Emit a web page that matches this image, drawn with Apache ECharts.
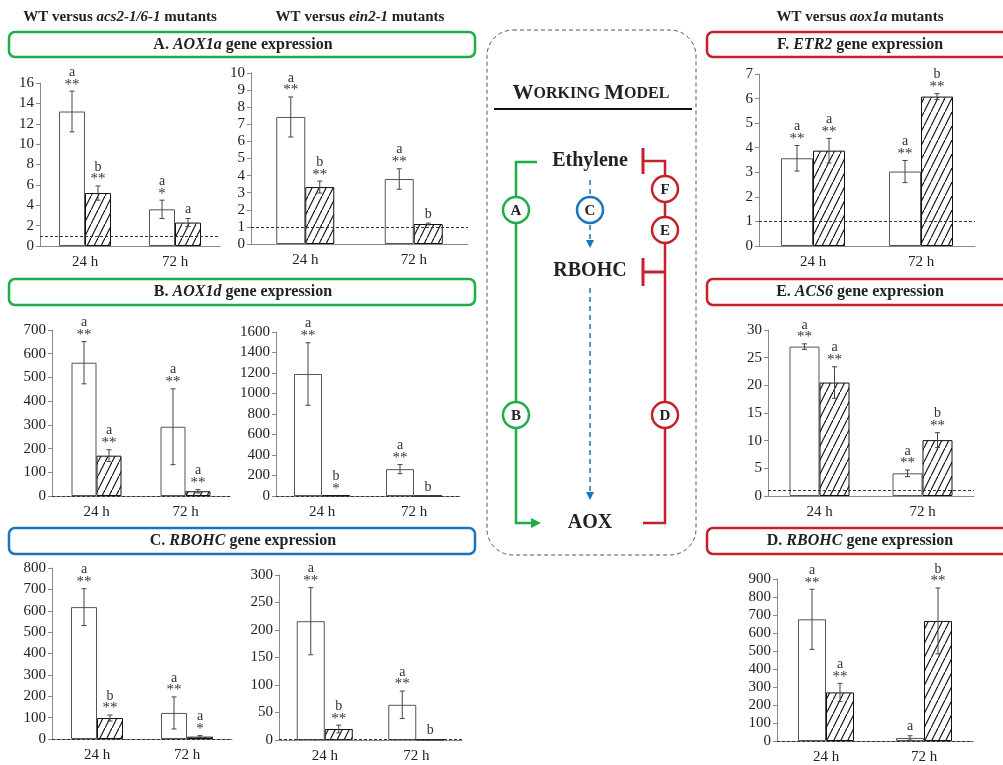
<!DOCTYPE html>
<html><head><meta charset="utf-8">
<script src="https://cdn.jsdelivr.net/npm/echarts@6/dist/echarts.min.js"></script>
<style>html,body{margin:0;padding:0;background:#fff}#c{width:1003px;height:765px}</style>
</head><body><div id="c"></div>
<script>
// ---------- DATA ----------
const timePoints = ['24 h', '72 h'];

// A. AOX1a — WT vs acs2-1/6-1
const aox1aAcsWT = [13.2, 3.6];   const aox1aAcsWTErr = [2.0, 0.9];
const aox1aAcsMut = [5.2, 2.3];   const aox1aAcsMutErr = [0.7, 0.4];
const aox1aAcsWTSig = [['a','**'], ['a','*']];
const aox1aAcsMutSig = [['b','**'], ['a','']];
const aox1aAcsTicks = [0, 16, 2];
// A. AOX1a — WT vs ein2-1
const aox1aEinWT = [7.43, 3.8];   const aox1aEinWTErr = [1.17, 0.6];
const aox1aEinMut = [3.33, 1.17]; const aox1aEinMutErr = [0.35, 0.05];
const aox1aEinWTSig = [['a','**'], ['a','**']];
const aox1aEinMutSig = [['b','**'], ['b','']];
const aox1aEinTicks = [0, 10, 1];

// B. AOX1d — WT vs acs2-1/6-1
const aox1dAcsWT = [562, 292];    const aox1dAcsWTErr = [89, 160];
const aox1dAcsMut = [170, 20];    const aox1dAcsMutErr = [25, 7];
const aox1dAcsWTSig = [['a','**'], ['a','**']];
const aox1dAcsMutSig = [['a','**'], ['a','**']];
const aox1dAcsTicks = [0, 700, 100];
// B. AOX1d — WT vs ein2-1
const aox1dEinWT = [1190, 262];   const aox1dEinWTErr = [305, 45];
const aox1dEinMut = [6, 1];       const aox1dEinMutErr = [0, 0];
const aox1dEinWTSig = [['a','**'], ['a','**']];
const aox1dEinMutSig = [['b','*'], ['b','']];
const aox1dEinTicks = [0, 1600, 200];

// C. RBOHC — WT vs acs2-1/6-1
const rbohcAcsWT = [617, 122];    const rbohcAcsWTErr = [86, 75];
const rbohcAcsMut = [98, 11];     const rbohcAcsMutErr = [14, 5];
const rbohcAcsWTSig = [['a','**'], ['a','**']];
const rbohcAcsMutSig = [['b','**'], ['a','*']];
const rbohcAcsTicks = [0, 800, 100];
// C. RBOHC — WT vs ein2-1
const rbohcEinWT = [216, 64];     const rbohcEinWTErr = [61, 25];
const rbohcEinMut = [20, 1];      const rbohcEinMutErr = [7, 0];
const rbohcEinWTSig = [['a','**'], ['a','**']];
const rbohcEinMutSig = [['b','**'], ['b','']];
const rbohcEinTicks = [0, 300, 50];

// F. ETR2 — WT vs aox1a
const etr2WT = [3.57, 3.03];      const etr2WTErr = [0.52, 0.45];
const etr2Mut = [3.88, 6.08];     const etr2MutErr = [0.5, 0.12];
const etr2WTSig = [['a','**'], ['a','**']];
const etr2MutSig = [['a','**'], ['b','**']];
const etr2Ticks = [0, 7, 1];

// E. ACS6 — WT vs aox1a
const acs6WT = [27.0, 4.1];       const acs6WTErr = [0.5, 0.6];
const acs6Mut = [20.5, 10.1];     const acs6MutErr = [2.85, 1.35];
const acs6WTSig = [['a','**'], ['a','**']];
const acs6MutSig = [['a','**'], ['b','**']];
const acs6Ticks = [0, 30, 5];

// D. RBOHC — WT vs aox1a
const rbohcAoxWT = [676, 17];     const rbohcAoxWTErr = [167, 12];
const rbohcAoxMut = [270, 667];   const rbohcAoxMutErr = [50, 183];
const rbohcAoxWTSig = [['a','**'], ['a','']];
const rbohcAoxMutSig = [['a','**'], ['b','**']];
const rbohcAoxTicks = [0, 900, 100];

const baselineLevel = 1;

// ---------- LAYOUT ----------
const FONT = "'Liberation Serif','DejaVu Serif',serif";
const panels = [
  {wt:aox1aAcsWT, wtE:aox1aAcsWTErr, mu:aox1aAcsMut, muE:aox1aAcsMutErr, wtS:aox1aAcsWTSig, muS:aox1aAcsMutSig, t:aox1aAcsTicks, g:[40,83,180,163], bw:26},
  {wt:aox1aEinWT, wtE:aox1aEinWTErr, mu:aox1aEinMut, muE:aox1aEinMutErr, wtS:aox1aEinWTSig, muS:aox1aEinMutSig, t:aox1aEinTicks, g:[251,73,217,171], bw:29},
  {wt:aox1dAcsWT, wtE:aox1dAcsWTErr, mu:aox1dAcsMut, muE:aox1dAcsMutErr, wtS:aox1dAcsWTSig, muS:aox1dAcsMutSig, t:aox1dAcsTicks, g:[52,330,178,166], bw:25},
  {wt:aox1dEinWT, wtE:aox1dEinWTErr, mu:aox1dEinMut, muE:aox1dEinMutErr, wtS:aox1dEinWTSig, muS:aox1dEinMutSig, t:aox1dEinTicks, g:[276,332,184,164], bw:28},
  {wt:rbohcAcsWT, wtE:rbohcAcsWTErr, mu:rbohcAcsMut, muE:rbohcAcsMutErr, wtS:rbohcAcsWTSig, muS:rbohcAcsMutSig, t:rbohcAcsTicks, g:[52,568,180,171], bw:26},
  {wt:rbohcEinWT, wtE:rbohcEinWTErr, mu:rbohcEinMut, muE:rbohcEinMutErr, wtS:rbohcEinWTSig, muS:rbohcEinMutSig, t:rbohcEinTicks, g:[279,575,183,165], bw:28},
  {wt:etr2WT, wtE:etr2WTErr, mu:etr2Mut, muE:etr2MutErr, wtS:etr2WTSig, muS:etr2MutSig, t:etr2Ticks, g:[759,74,216,172], bw:32},
  {wt:acs6WT, wtE:acs6WTErr, mu:acs6Mut, muE:acs6MutErr, wtS:acs6WTSig, muS:acs6MutSig, t:acs6Ticks, g:[768,330,206,166], bw:30},
  {wt:rbohcAoxWT, wtE:rbohcAoxWTErr, mu:rbohcAoxMut, muE:rbohcAoxMutErr, wtS:rbohcAoxWTSig, muS:rbohcAoxMutSig, t:rbohcAoxTicks, g:[777,579,196,162], bw:28}
];

function hatchCanvas() {
  const c = document.createElement('canvas');
  c.width = 7; c.height = 14;
  const g = c.getContext('2d');
  g.fillStyle = '#fff'; g.fillRect(0, 0, 7, 14);
  g.strokeStyle = '#111'; g.lineWidth = 1.1;
  g.beginPath(); g.moveTo(-1, 16); g.lineTo(8, -2); g.stroke();
  return c;
}
const hatch = hatchCanvas();
const AX = '#8a8a8a';

const grids = [], xAxes = [], yAxes = [], series = [];
panels.forEach((p, i) => {
  grids.push({left:p.g[0], top:p.g[1], width:p.g[2], height:p.g[3], containLabel:false, outerBoundsMode:'none'});
  xAxes.push({gridIndex:i, type:'category', data:timePoints,
    axisLine:{lineStyle:{color:AX}}, axisTick:{length:5, lineStyle:{color:AX}},
    axisLabel:{fontFamily:FONT, fontSize:15, color:'#222', margin:9}});
  yAxes.push({gridIndex:i, type:'value', min:p.t[0], max:p.t[1], interval:p.t[2],
    axisLine:{show:true, lineStyle:{color:AX}}, axisTick:{show:true, length:4, lineStyle:{color:AX}},
    splitLine:{show:false},
    axisLabel:{fontFamily:FONT, fontSize:15, color:'#222', margin:6, formatter:function(v){ return String(v); }}});
  series.push({type:'bar', xAxisIndex:i, yAxisIndex:i, data:p.wt, barWidth:p.bw, barGap:'0%',
    itemStyle:{color:'#fff', borderColor:'#555', borderWidth:1}, silent:true,
    markLine:{silent:true, symbol:'none', label:{show:false},
      lineStyle:{type:[3,2], color:'#333', width:1}, data:[{yAxis:baselineLevel}]}});
  series.push({type:'bar', xAxisIndex:i, yAxisIndex:i, data:p.mu, barWidth:p.bw, barGap:'0%',
    itemStyle:{color:{image:hatch, repeat:'repeat'}, borderColor:'#111', borderWidth:1}, silent:true});
  const data = [], sigs = [];
  for (let k = 0; k < timePoints.length; k++) {
    data.push([k, p.wt[k], p.wtE[k], 0]); sigs.push(p.wtS[k]);
    data.push([k, p.mu[k], p.muE[k], 1]); sigs.push(p.muS[k]);
  }
  const bw = p.bw;
  series.push({type:'custom', xAxisIndex:i, yAxisIndex:i, z:10, silent:true, data:data,
    renderItem:function(params, api){
      const cat = api.value(0), v = api.value(1), e = api.value(2), s = api.value(3);
      const cx = api.coord([cat, v])[0] + (s === 0 ? -bw/2 : bw/2);
      const yT = api.coord([cat, v + e])[1];
      const yB = api.coord([cat, Math.max(v - e, 0)])[1];
      const ch = [];
      const st = {stroke:'#444', lineWidth:1};
      if (e > 0) {
        ch.push({type:'line', shape:{x1:cx, y1:yT, x2:cx, y2:yB}, style:st});
        ch.push({type:'line', shape:{x1:cx-2.5, y1:yT, x2:cx+2.5, y2:yT}, style:st});
        ch.push({type:'line', shape:{x1:cx-2.5, y1:yB, x2:cx+2.5, y2:yB}, style:st});
      }
      const sig = sigs[params.dataIndex];
      let y = yT;
      if (sig[1]) {
        ch.push({type:'text', style:{text:sig[1], x:cx, y:y + 1, align:'center', verticalAlign:'bottom',
          font:'15px ' + FONT, fill:'#333'}});
        y -= 10;
      }
      ch.push({type:'text', style:{text:sig[0], x:cx, y:y - 2, align:'center', verticalAlign:'bottom',
        font:'14px ' + FONT, fill:'#333'}});
      return {type:'group', children:ch};
    }});
});

// ---------- GRAPHICS (headers, title boxes, working model) ----------
const GREEN = '#1fac4b', BLUE = '#1b75bc', RED = '#c4212b';
const richBase = {
  n:{fontFamily:FONT, fontWeight:'bold', fontSize:16, fill:'#222'},
  i:{fontFamily:FONT, fontWeight:'bold', fontStyle:'italic', fontSize:16, fill:'#222'}
};
const richHead = {
  n:{fontFamily:FONT, fontWeight:'bold', fontSize:15, fill:'#222'},
  i:{fontFamily:FONT, fontWeight:'bold', fontStyle:'italic', fontSize:15, fill:'#222'}
};
function box(x, y, w, h, color, label, gene, cx) {
  return [
    {type:'rect', shape:{x:x, y:y, width:w, height:h, r:6}, style:{fill:'#fff', stroke:color, lineWidth:2.5}, z:1},
    {type:'text', x:cx, y:y + h/2, z:2, style:{text:'{n|' + label + ' }{i|' + gene + '}{n| gene expression}',
      rich:richBase, align:'center', verticalAlign:'middle'}}
  ];
}
function head(cx, y, pre, it, post) {
  return {type:'text', x:cx, y:y, style:{text:'{n|' + pre + '}{i|' + it + '}{n|' + post + '}',
    rich:richHead, align:'center', verticalAlign:'middle'}};
}
function circ(cx, cy, color, letter) {
  return [
    {type:'circle', shape:{cx:cx, cy:cy, r:13}, style:{fill:'#fff', stroke:color, lineWidth:2.5}, z:3},
    {type:'text', x:cx, y:cy + 1, z:4, style:{text:letter, font:'bold 15px ' + FONT, fill:'#222', align:'center', verticalAlign:'middle'}}
  ];
}
function ln(x1, y1, x2, y2, color, w, dash) {
  return {type:'line', shape:{x1:x1, y1:y1, x2:x2, y2:y2}, style:{stroke:color, lineWidth:w, lineDash:dash || null}, z:2};
}
function lbl(cx, cy, t) {
  return {type:'text', x:cx, y:cy, z:4, style:{text:t, font:'bold 20px ' + FONT, fill:'#222', align:'center', verticalAlign:'middle'}};
}

let graphics = [];
graphics.push(head(120, 17, 'WT versus ', 'acs2-1/6-1', ' mutants'));
graphics.push(head(360, 17, 'WT versus ', 'ein2-1', ' mutants'));
graphics.push(head(860, 17, 'WT versus ', 'aox1a', ' mutants'));
graphics = graphics.concat(box(9, 32, 466, 25, GREEN, 'A.', 'AOX1a', 243));
graphics = graphics.concat(box(9, 279, 466, 26, GREEN, 'B.', 'AOX1d', 243));
graphics = graphics.concat(box(9, 528, 466, 26, BLUE, 'C.', 'RBOHC', 243));
graphics = graphics.concat(box(707, 32, 310, 25, RED, 'F.', 'ETR2', 860));
graphics = graphics.concat(box(707, 279, 310, 26, RED, 'E.', 'ACS6', 860));
graphics = graphics.concat(box(707, 528, 310, 26, RED, 'D.', 'RBOHC', 860));

// working model
graphics.push({type:'rect', shape:{x:487, y:30, width:209, height:525, r:26},
  style:{fill:'transparent', stroke:'#555', lineWidth:1, lineDash:[4,3]}, z:1});
graphics.push({type:'text', x:591, y:94, z:4, style:{
  text:'{b|W}{s|ORKING }{b|M}{s|ODEL}', align:'center', verticalAlign:'middle',
  rich:{b:{fontFamily:FONT, fontWeight:'bold', fontSize:21, fill:'#222'},
        s:{fontFamily:FONT, fontWeight:'bold', fontSize:16, fill:'#222'}}}});
graphics.push(ln(494, 109, 692, 109, '#111', 2));
// green path
graphics.push({type:'polyline', shape:{points:[[537,162],[516,162],[516,523],[532,523]]},
  style:{stroke:GREEN, lineWidth:2.5, fill:null}, z:2});
graphics.push({type:'polygon', shape:{points:[[531,518],[541,523],[531,528]]}, style:{fill:GREEN}, z:2});
// blue dashed path
graphics.push(ln(590, 180, 590, 241, BLUE, 1.5, [5,4]));
graphics.push({type:'polygon', shape:{points:[[586,240],[594,240],[590,248]]}, style:{fill:BLUE}, z:2});
graphics.push(ln(590, 288, 590, 493, BLUE, 1.5, [5,4]));
graphics.push({type:'polygon', shape:{points:[[586,492],[594,492],[590,500]]}, style:{fill:BLUE}, z:2});
// red path
graphics.push({type:'polyline', shape:{points:[[643,161],[665,161],[665,523],[643,523]]},
  style:{stroke:RED, lineWidth:2.5, fill:null}, z:2});
graphics.push(ln(643, 148, 643, 174, RED, 3));
graphics.push(ln(643, 272, 665, 272, RED, 3));
graphics.push(ln(643, 258, 643, 286, RED, 3));
graphics = graphics.concat(circ(516, 210, GREEN, 'A'), circ(516, 415, GREEN, 'B'),
  circ(590, 210, BLUE, 'C'), circ(665, 189, RED, 'F'), circ(665, 230, RED, 'E'), circ(665, 415, RED, 'D'));
graphics.push(lbl(590, 161, 'Ethylene'), lbl(590, 271, 'RBOHC'), lbl(590, 523, 'AOX'));

const chart = echarts.init(document.getElementById('c'), null, {renderer:'canvas'});
chart.setOption({
  animation:false, backgroundColor:'#fff',
  grid:grids, xAxis:xAxes, yAxis:yAxes, series:series, graphic:graphics
});
</script></body></html>
